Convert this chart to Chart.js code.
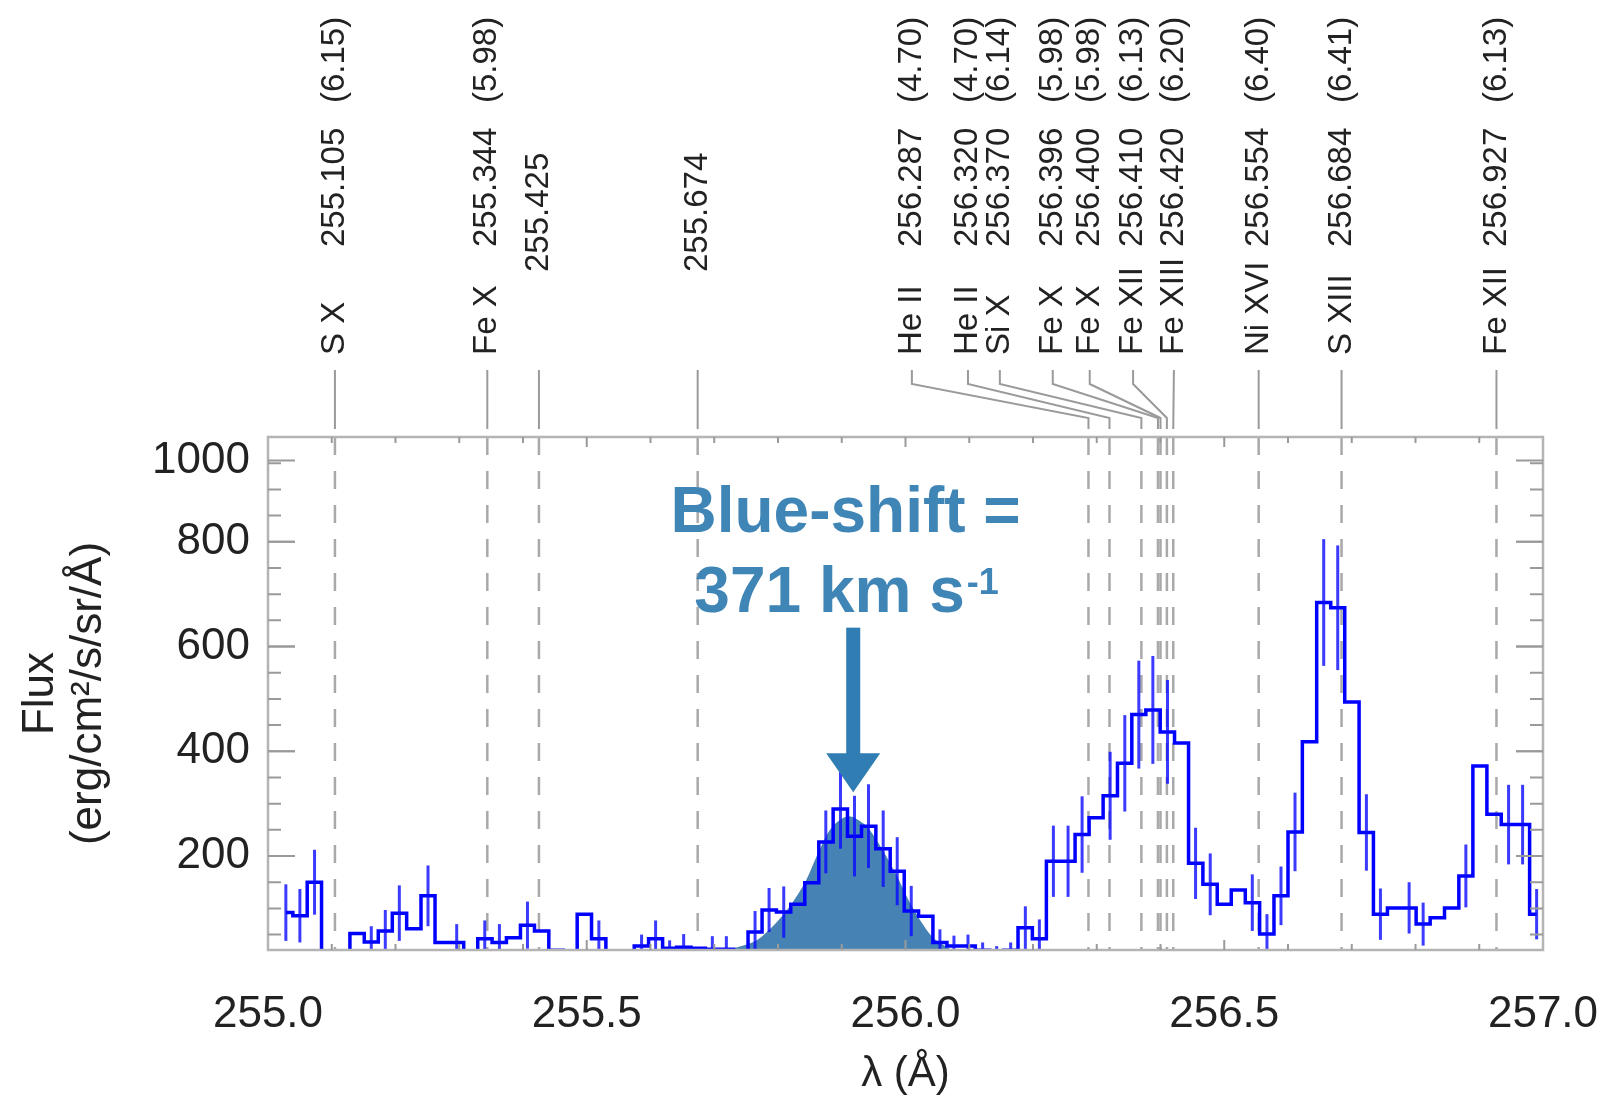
<!DOCTYPE html>
<html>
<head>
<meta charset="utf-8">
<title>EIS spectrum 255-257 Å</title>
<script src="https://cdn.jsdelivr.net/npm/chart.js@4.4.0/dist/chart.umd.min.js"></script>
<style>
  html, body { margin: 0; padding: 0; background: #fff; }
  #spec { display: block; }
</style>
</head>
<body>
<canvas id="spec" width="1602" height="1105"></canvas>
<script>
const wavelength = [
  255.028, 255.050, 255.073, 255.095, 255.117, 255.140, 255.162, 255.184, 255.206, 255.229,
  255.251, 255.273, 255.296, 255.318, 255.340, 255.363, 255.385, 255.407, 255.429, 255.452,
  255.474, 255.496, 255.519, 255.541, 255.563, 255.586, 255.608, 255.630, 255.652, 255.675,
  255.697, 255.719, 255.742, 255.764, 255.786, 255.809, 255.831, 255.853, 255.875, 255.898,
  255.920, 255.942, 255.965, 255.987, 256.009, 256.032, 256.054, 256.076, 256.098, 256.121,
  256.143, 256.165, 256.188, 256.210, 256.232, 256.255, 256.277, 256.299, 256.321, 256.344,
  256.366, 256.388, 256.411, 256.433, 256.455, 256.478, 256.500, 256.522, 256.544, 256.567,
  256.589, 256.611, 256.634, 256.656, 256.678, 256.700, 256.723, 256.745, 256.767, 256.790,
  256.812, 256.834, 256.857, 256.879, 256.901, 256.923, 256.946, 256.968, 256.990
];
const flux = [
  92, 86, 150, 8, 18, 52, 36, 57, 91, 61,
  124, 35, 35, 15, 42, 35, 44, 68, 57, 20,
  8, 89, 42, 8, 10, 28, 42, 24, 26, 24,
  22, 22, 18, 55, 97, 93, 108, 149, 227, 290,
  238, 257, 214, 171, 95, 85, 35, 28, 28, 20,
  18, 20, 63, 42, 190, 190, 241, 273, 315, 377,
  470, 479, 437, 416, 186, 146, 108, 135, 111, 51,
  124, 246, 418, 684, 674, 494, 245, 89, 101, 101,
  70, 82, 101, 162, 372, 280, 260, 260, 89
];
const fluxErr = [
  54, 51, 62, null, null, null, 30, 40, 53, null,
  58, null, 35, null, 35, 35, null, 45, null, null,
  null, null, 35, null, null, 22, 35, 15, 25, null,
  25, 25, null, 40, 42, 49, null, null, 60, 76,
  77, 80, 73, 65, 48, null, 25, 20, 22, 15,
  10, 15, 41, 37, 68, 68, 73, null, 84, 92,
  103, 103, 99, null, 68, 59, null, null, 54, 38,
  56, 75, null, 121, 119, null, 73, 49, null, 49,
  41, null, null, 60, null, null, 76, 76, 48
];

// fitted blue-shifted component (shaded area)
const fitWavelength = [255.700, 255.727, 255.769, 255.811, 255.842, 255.863, 255.884, 255.910,
                       255.936, 255.957, 255.984, 256.010, 256.041, 256.067, 256.090];
const fitFlux = [10, 22, 41, 92, 149, 206, 254, 276, 260, 226, 168, 104, 47, 25, 10];

// line identifications
const lineWave = [255.105, 255.344, 255.425, 255.674, 256.287, 256.320, 256.370,
                  256.396, 256.400, 256.410, 256.420, 256.554, 256.684, 256.927];
const lineIon = ['S X', 'Fe X', '', '', 'He II', 'He II', 'Si X',
                 'Fe X', 'Fe X', 'Fe XII', 'Fe XIII', 'Ni XVI', 'S XIII', 'Fe XII'];
const lineLogT = [6.15, 5.98, null, null, 4.70, 4.70, 6.14,
                  5.98, 5.98, 6.13, 6.20, 6.40, 6.41, 6.13];

// axis ticks
const xTicks = [255.0, 255.5, 256.0, 256.5, 257.0];
const yTicks = [200, 400, 600, 800, 955];
const yTickLabels = ['200', '400', '600', '800', '1000'];

// ---- layout / style ----
const FONT = "'Liberation Sans', Arial, Helvetica, sans-serif";
const GREY = '#a9a9a9';
const INK = '#222';
// where the label columns sit (in Å), spread out for the crowded group
const labelAt = [255.105, 255.344, 255.425, 255.674, 256.010, 256.098, 256.148,
                 256.231, 256.289, 256.357, 256.421, 256.554, 256.684, 256.927];

// dashed line-id markers inside the plot
const markerLines = {
  id: 'markerLines',
  beforeDatasetsDraw(chart) {
    const {ctx, chartArea: a, scales: {x}} = chart;
    ctx.save();
    ctx.beginPath();
    ctx.rect(a.left, a.top, a.right - a.left, a.bottom - a.top);
    ctx.clip();
    ctx.strokeStyle = GREY;
    ctx.lineWidth = 2.5;
    ctx.setLineDash([18, 16]);
    lineWave.forEach(w => {
      const px = x.getPixelForValue(w);
      ctx.beginPath();
      ctx.moveTo(px, a.top);
      ctx.lineTo(px, a.bottom);
      ctx.stroke();
    });
    ctx.restore();
  }
};

// error bars on the histogram
const errorBars = {
  id: 'errorBars',
  afterDatasetsDraw(chart) {
    const {ctx, chartArea: a, scales: {x, y}} = chart;
    ctx.save();
    ctx.beginPath();
    ctx.rect(a.left, a.top, a.right - a.left, a.bottom - a.top);
    ctx.clip();
    ctx.strokeStyle = 'rgba(10,10,255,0.8)';
    ctx.lineWidth = 3;
    wavelength.forEach((w, i) => {
      const e = fluxErr[i];
      if (e == null) return;
      const px = x.getPixelForValue(w);
      ctx.beginPath();
      ctx.moveTo(px, y.getPixelForValue(flux[i] - e));
      ctx.lineTo(px, y.getPixelForValue(flux[i] + e));
      ctx.stroke();
    });
    ctx.restore();
  }
};

// frame, inner tick marks, line labels and the blue-shift annotation
const decorations = {
  id: 'decorations',
  afterDraw(chart) {
    const {ctx, chartArea: a, scales: {x, y}} = chart;
    ctx.save();

    // frame
    ctx.strokeStyle = '#b4b4b4';
    ctx.lineWidth = 2.5;
    ctx.strokeRect(a.left, a.top, a.right - a.left, a.bottom - a.top);

    // inner ticks
    ctx.lineWidth = 2;
    ctx.strokeStyle = '#9a9a9a';
    for (let v = 50; v < 955; v += 50) {
      const len = yTicks.includes(v) ? 27 : 13;
      const py = y.getPixelForValue(v);
      ctx.beginPath();
      ctx.moveTo(a.left, py); ctx.lineTo(a.left + len, py);
      ctx.moveTo(a.right, py); ctx.lineTo(a.right - len, py);
      ctx.stroke();
    }
    yTicks.forEach(v => {
      const py = y.getPixelForValue(v);
      ctx.beginPath();
      ctx.moveTo(a.left, py); ctx.lineTo(a.left + 27, py);
      ctx.moveTo(a.right, py); ctx.lineTo(a.right - 27, py);
      ctx.stroke();
    });
    for (let k = 1; k < 20; k++) {
      const px = x.getPixelForValue(255 + k * 0.1);
      const len = k % 5 === 0 ? 10 : 6;
      ctx.beginPath();
      ctx.moveTo(px, a.top); ctx.lineTo(px, a.top + len);
      ctx.moveTo(px, a.bottom); ctx.lineTo(px, a.bottom - len);
      ctx.stroke();
    }

    // line identification labels + connectors above the plot
    ctx.strokeStyle = '#9a9a9a';
    ctx.lineWidth = 2;
    ctx.fillStyle = INK;
    ctx.font = `33px ${FONT}`;
    ctx.textAlign = 'left';
    ctx.textBaseline = 'middle';
    lineWave.forEach((w, i) => {
      const tx = x.getPixelForValue(w);
      const lx = x.getPixelForValue(labelAt[i]);
      ctx.beginPath();
      ctx.moveTo(lx, 370);
      if (Math.abs(lx - tx) > 1.5) {
        ctx.lineTo(lx, 384);
        ctx.lineTo(tx, 418);
      }
      ctx.lineTo(tx, 429);
      ctx.stroke();

      const parts = lineIon[i]
        ? [[lineIon[i], 355], [w.toFixed(3), 247], ['(' + lineLogT[i].toFixed(2) + ')', 103]]
        : [[w.toFixed(3), 272]];
      parts.forEach(([t, yb]) => {
        ctx.save();
        ctx.translate(lx, yb);
        ctx.rotate(-Math.PI / 2);
        ctx.fillText(t, 0, 0);
        ctx.restore();
      });
    });

    // blue-shift annotation
    const cx = x.getPixelForValue(255.906);
    ctx.fillStyle = '#3f85b6';
    ctx.textAlign = 'center';
    ctx.textBaseline = 'alphabetic';
    ctx.font = `bold 64px ${FONT}`;
    ctx.fillText('Blue-shift =', cx, y.getPixelForValue(818));
    const main = '371 km s';
    const w1 = ctx.measureText(main).width;
    ctx.font = `bold 36px ${FONT}`;
    const w2 = ctx.measureText('-1').width;
    const x0 = cx - (w1 + w2) / 2;
    const base2 = y.getPixelForValue(665);
    ctx.textAlign = 'left';
    ctx.fillText('-1', x0 + w1 + 2, base2 - 18);
    ctx.font = `bold 64px ${FONT}`;
    ctx.fillText(main, x0, base2);

    // arrow
    const ax = x.getPixelForValue(255.918);
    const top = y.getPixelForValue(636);
    const headBase = y.getPixelForValue(396);
    const tip = y.getPixelForValue(322);
    ctx.fillStyle = '#2f7db2';
    ctx.fillRect(ax - 7, top, 14, headBase - top + 1);
    ctx.beginPath();
    ctx.moveTo(ax - 27, headBase);
    ctx.lineTo(ax + 27, headBase);
    ctx.lineTo(ax, tip);
    ctx.closePath();
    ctx.fill();

    ctx.restore();
  }
};

new Chart(document.getElementById('spec'), {
  type: 'line',
  data: {
    datasets: [
      {
        label: 'EIS spectrum',
        data: wavelength.map((w, i) => ({x: w, y: flux[i]})),
        stepped: 'middle',
        borderColor: '#0000ff',
        borderWidth: 3.5,
        pointRadius: 0,
        fill: false,
        order: 0
      },
      {
        label: 'Gaussian fit',
        data: fitWavelength.map((w, i) => ({x: w, y: fitFlux[i]})),
        borderColor: 'rgba(0,0,0,0)',
        borderWidth: 0,
        backgroundColor: '#4682b4',
        fill: 'start',
        tension: 0.3,
        pointRadius: 0,
        order: 1
      }
    ]
  },
  options: {
    responsive: false,
    animation: false,
    devicePixelRatio: 1,
    layout: { padding: { top: 437, right: 59, left: 0, bottom: 0 } },
    plugins: {
      legend: { display: false },
      tooltip: { enabled: false }
    },
    scales: {
      x: {
        type: 'linear',
        min: 255,
        max: 257,
        grid: { display: false, drawTicks: false },
        border: { display: false },
        afterBuildTicks: s => { s.ticks = xTicks.map(v => ({value: v})); },
        afterFit: s => { s.height = 155; s.paddingLeft = 0; s.paddingRight = 0; },
        ticks: {
          padding: 38,
          autoSkip: false,
          maxRotation: 0,
          color: INK,
          font: { family: FONT, size: 44 },
          callback: v => v.toFixed(1)
        },
        title: {
          display: true,
          text: 'λ (Å)',
          color: INK,
          font: { family: FONT, size: 42 },
          padding: { top: 0, bottom: 5 }
        }
      },
      y: {
        min: 20.6,
        max: 1000,
        grid: { display: false, drawTicks: false },
        border: { display: false },
        afterBuildTicks: s => { s.ticks = yTicks.map(v => ({value: v})); },
        afterFit: s => { s.width = 268; s.paddingTop = 0; s.paddingBottom = 0; },
        ticks: {
          padding: 18,
          autoSkip: false,
          color: INK,
          font: { family: FONT, size: 44 },
          callback: (v, i) => yTickLabels[i]
        },
        title: {
          display: true,
          text: ['Flux', '(erg/cm²/s/sr/Å)'],
          color: INK,
          font: { family: FONT, size: 44, lineHeight: 1.11 },
          padding: { top: 16, bottom: 0 }
        }
      }
    }
  },
  plugins: [markerLines, errorBars, decorations]
});
</script>
</body>
</html>
